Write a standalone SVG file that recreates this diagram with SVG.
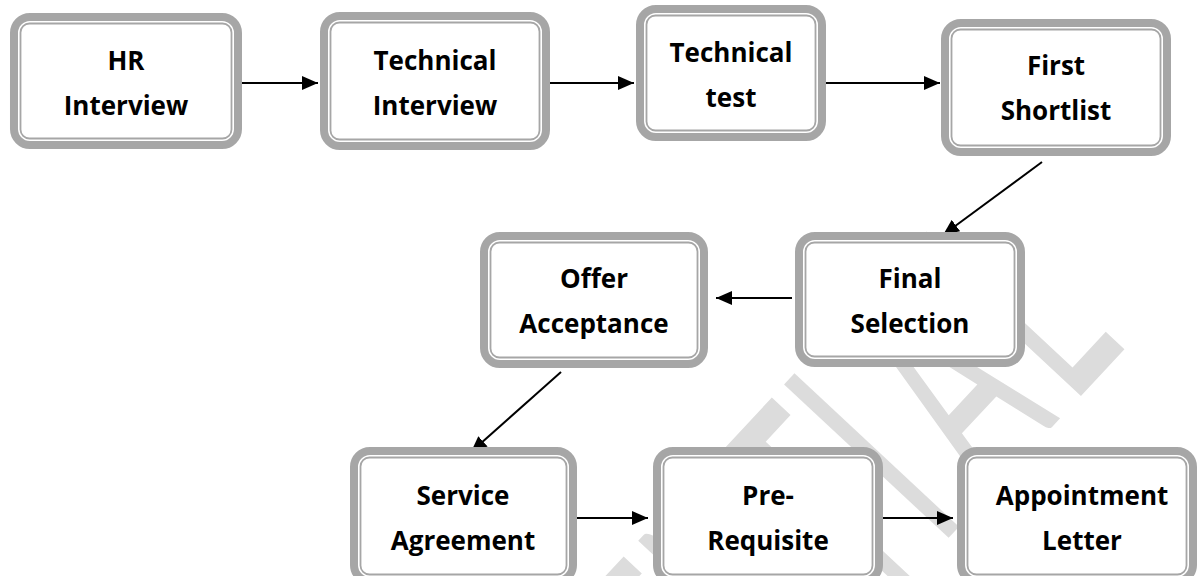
<svg xmlns="http://www.w3.org/2000/svg" width="1198" height="576" viewBox="0 0 1198 576">
<defs>
<style>
.outer{fill:#ffffff;stroke:#a6a6a6;stroke-width:8}
.inner{fill:none;stroke:#a6a6a6;stroke-width:1.8}
.lbl{font-family:"Open Sans","Liberation Sans",sans-serif;font-weight:700;font-size:26px;fill:#000;text-anchor:middle}
.conn{stroke:#000;stroke-width:2;fill:none}
.wm{font-family:Lato,"Open Sans","Liberation Sans",sans-serif;font-weight:400;font-size:314px;fill:#dcdcdc}
</style>
<marker id="ah" markerUnits="userSpaceOnUse" markerWidth="17" markerHeight="14" refX="16" refY="7" orient="auto">
<path d="M0,0 L16,7 L0,14 z" fill="#000"/>
</marker>
</defs>
<rect width="1198" height="576" fill="#ffffff"/>
<g id="watermark">
<text class="wm" transform="translate(1080,397) rotate(-47) scale(0.5,1)"><tspan x="-602" text-anchor="end">CONFIDEN</tspan><tspan x="-602">T</tspan><tspan x="-414">I</tspan><tspan x="-270">A</tspan><tspan x="-26">L</tspan></text>
</g>
<g id="connectors">
<line class="conn" x1="242" y1="83" x2="318" y2="83" marker-end="url(#ah)"/>
<line class="conn" x1="550" y1="83" x2="634" y2="83" marker-end="url(#ah)"/>
<line class="conn" x1="826" y1="83" x2="940" y2="83" marker-end="url(#ah)"/>
<line class="conn" x1="1042" y1="162" x2="943" y2="235" marker-end="url(#ah)"/>
<line class="conn" x1="792" y1="298" x2="716" y2="298" marker-end="url(#ah)"/>
<line class="conn" x1="561" y1="372" x2="471" y2="452" marker-end="url(#ah)"/>
<line class="conn" x1="577" y1="518" x2="648" y2="518" marker-end="url(#ah)"/>
<line class="conn" x1="883" y1="518" x2="953" y2="518" marker-end="url(#ah)"/>
</g>
<g id="hr-interview">
<rect class="outer" x="14" y="17" width="224" height="128" rx="16"/>
<rect class="inner" x="20.5" y="23.5" width="211" height="115" rx="9"/>
<text class="lbl" x="126" y="70">HR</text>
<text class="lbl" x="126" y="115">Interview</text>
</g>
<g id="technical-interview">
<rect class="outer" x="324" y="16" width="222" height="130" rx="16"/>
<rect class="inner" x="330.5" y="22.5" width="209" height="117" rx="9"/>
<text class="lbl" x="435" y="70">Technical</text>
<text class="lbl" x="435" y="115">Interview</text>
</g>
<g id="technical-test">
<rect class="outer" x="640" y="9" width="182" height="128" rx="16"/>
<rect class="inner" x="646.5" y="15.5" width="169" height="115" rx="9"/>
<text class="lbl" x="731" y="62">Technical</text>
<text class="lbl" x="731" y="107">test</text>
</g>
<g id="first-shortlist">
<rect class="outer" x="945" y="23" width="222" height="129" rx="16"/>
<rect class="inner" x="951.5" y="29.5" width="209" height="116" rx="9"/>
<text class="lbl" x="1056" y="75">First</text>
<text class="lbl" x="1056" y="120">Shortlist</text>
</g>
<g id="final-selection">
<rect class="outer" x="799" y="236" width="222" height="127" rx="16"/>
<rect class="inner" x="805.5" y="242.5" width="209" height="114" rx="9"/>
<text class="lbl" x="910" y="288">Final</text>
<text class="lbl" x="910" y="333">Selection</text>
</g>
<g id="offer-acceptance">
<rect class="outer" x="484" y="236" width="220" height="128" rx="16"/>
<rect class="inner" x="490.5" y="242.5" width="207" height="115" rx="9"/>
<text class="lbl" x="594" y="288">Offer</text>
<text class="lbl" x="594" y="333">Acceptance</text>
</g>
<g id="service-agreement">
<rect class="outer" x="354" y="451" width="219" height="130" rx="16"/>
<rect class="inner" x="360.5" y="457.5" width="206" height="117" rx="9"/>
<text class="lbl" x="463" y="505">Service</text>
<text class="lbl" x="463" y="550">Agreement</text>
</g>
<g id="pre-requisite">
<rect class="outer" x="657" y="451" width="222" height="130" rx="16"/>
<rect class="inner" x="663.5" y="457.5" width="209" height="117" rx="9"/>
<text class="lbl" x="768" y="505">Pre-</text>
<text class="lbl" x="768" y="550">Requisite</text>
</g>
<g id="appointment-letter">
<rect class="outer" x="961" y="451" width="232" height="130" rx="16"/>
<rect class="inner" x="967.5" y="457.5" width="219" height="117" rx="9"/>
<text class="lbl" x="1082" y="505">Appointment</text>
<text class="lbl" x="1082" y="550">Letter</text>
</g>
</svg>
